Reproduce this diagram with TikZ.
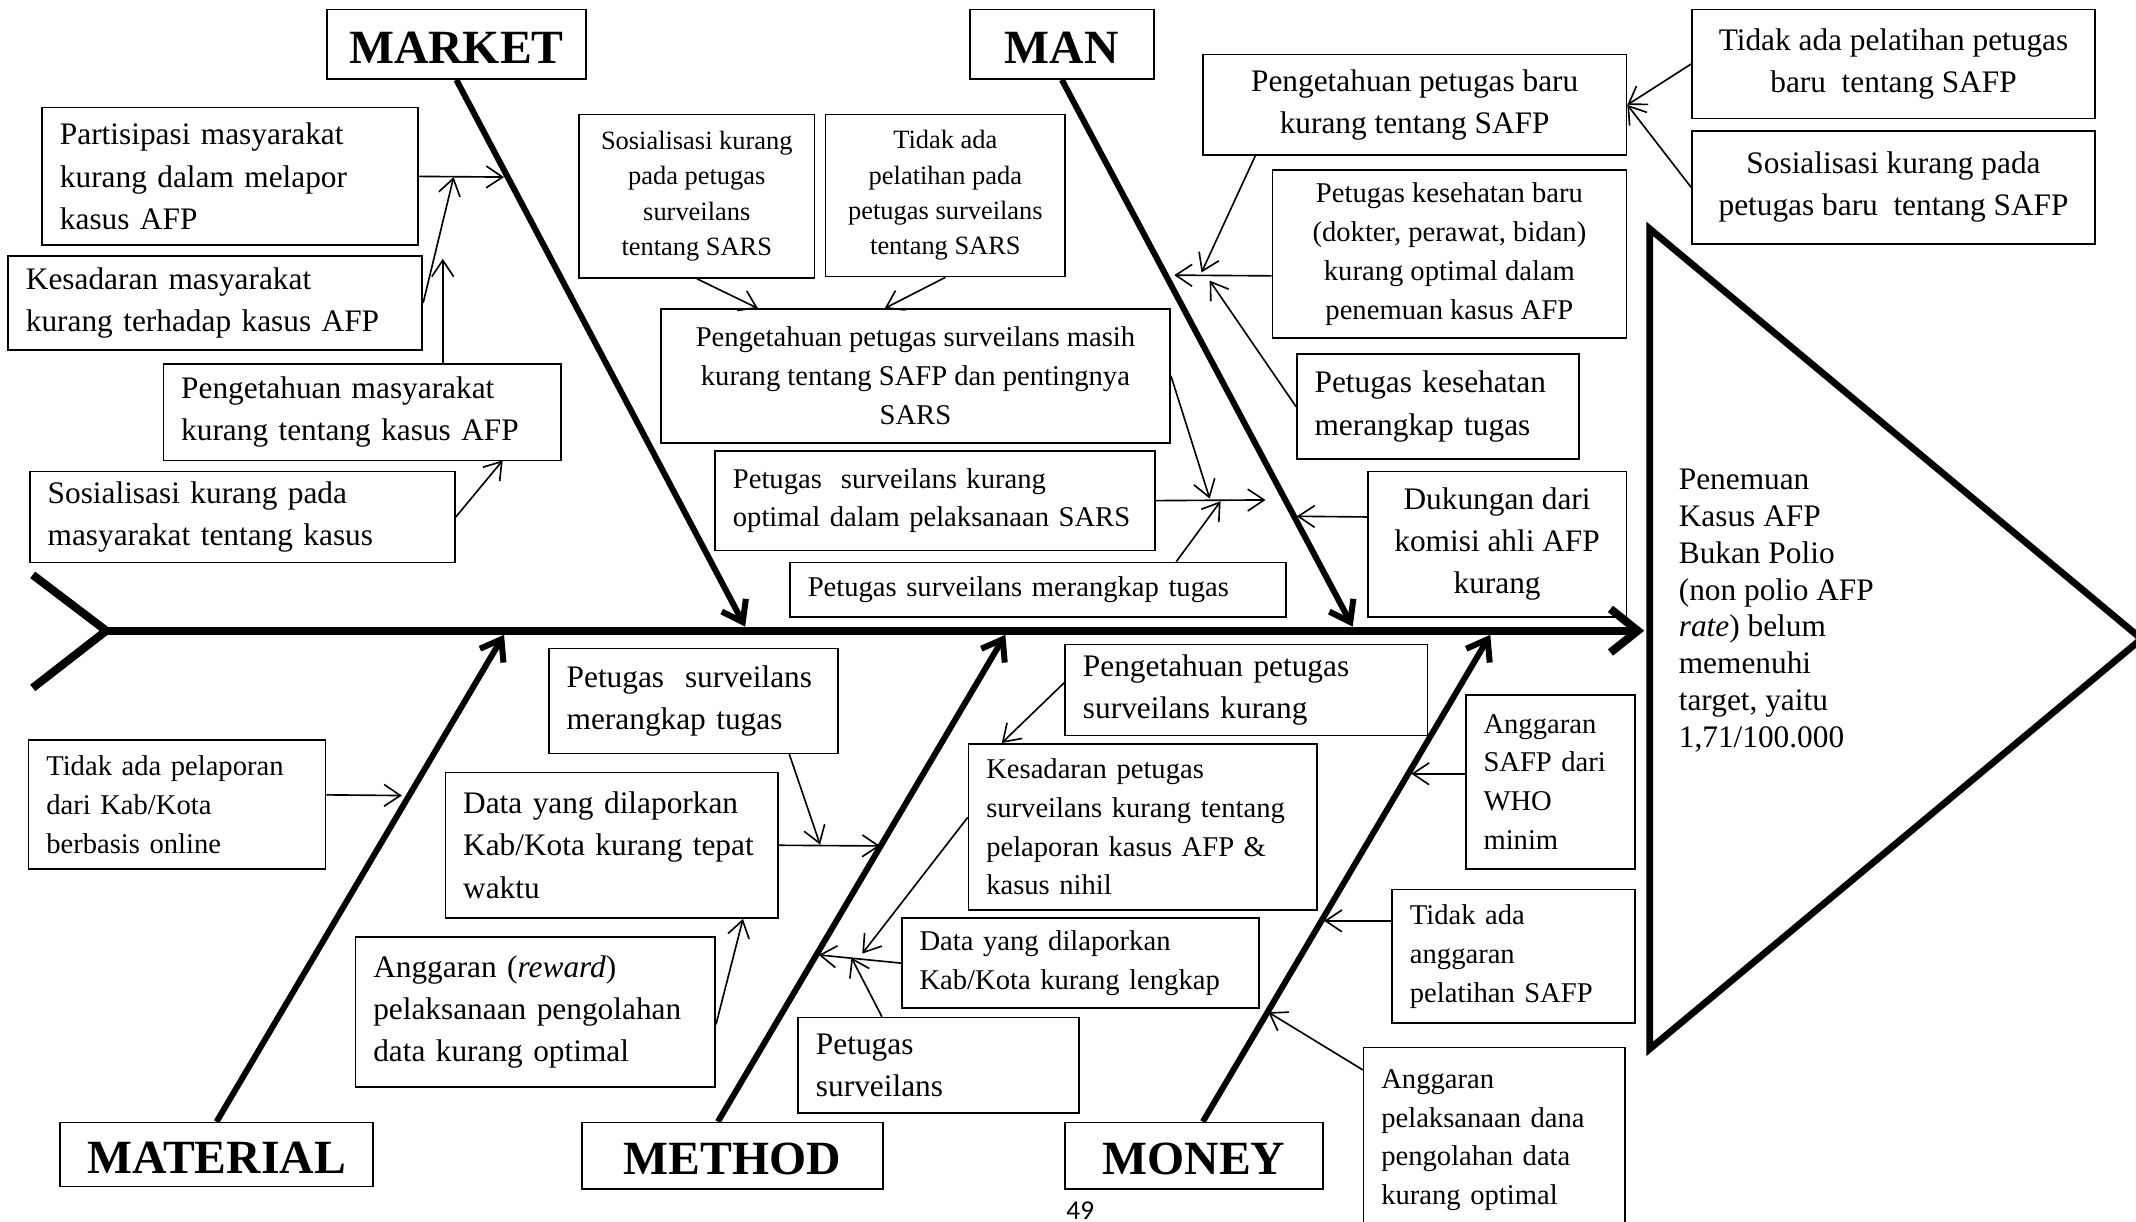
\documentclass[tikz,border=0pt]{standalone}
\usepackage{fontspec}
\setmainfont{Liberation Serif}
\newfontfamily\pgfont{Carlito}
\usetikzlibrary{arrows.meta}
\newcommand\fA{\fontsize{11.5pt}{15.5pt}\selectfont}
\newcommand\fB{\fontsize{10.5pt}{14.25pt}\selectfont}
\newcommand\fC{\fontsize{9.7pt}{13pt}\selectfont}
\newcommand\fE{\fontsize{11.5pt}{13.5pt}\selectfont}
\newcommand\fT{\fontsize{17.5pt}{20pt}\selectfont\bfseries}

\begin{document}
\begin{tikzpicture}[x=0.5pt, y=-0.5pt, >={Straight Barb[length=6pt,width=8pt]}]
  \tikzstyle{cause}=[draw, line width=0.6pt, inner xsep=6.5pt, inner ysep=1pt, align=left]
  \tikzstyle{mid}=[draw, line width=0.6pt, inner sep=1pt, align=center]
  \tikzstyle{cat}=[draw, line width=0.6pt, inner sep=0pt, text height=14pt, font=\fT]
  \tikzstyle{bone}=[line width=2.2pt, -{Straight Barb[length=7pt,width=10pt]}]
  \tikzstyle{link}=[line width=0.6pt, ->]

  \useasboundingbox (0,0) rectangle (1568,897);

  \node[cat, minimum width=95pt, minimum height=25.5pt] (mk) at (335,32.5) {MARKET};
  \node[cat, minimum width=67.5pt, minimum height=25.5pt] (man) at (779.5,32.5) {MAN};
  \node[cat, minimum width=115pt, minimum height=23.5pt] (mat) at (159,847.5) {MATERIAL};
  \node[cat, minimum width=110.5pt, minimum height=24.5pt] (met) at (537.5,848.5) {METHOD};
  \node[cat, minimum width=94.5pt, minimum height=24.5pt] (mon) at (876.5,848.5) {MONEY};

  \node[cause, text width=125pt, minimum height=50.5pt, font=\fA] (a) at (169,129.5) {Partisipasi masyarakat\\ kurang dalam melapor\\ kasus AFP};
  \node[cause, text width=139pt, minimum height=34.5pt, font=\fA] (b) at (158,222.5) {Kesadaran masyarakat\\ kurang terhadap kasus AFP};
  \node[cause, text width=133pt, minimum height=35.5pt, font=\fA] (c) at (266,302.5) {Pengetahuan masyarakat\\ kurang tentang kasus AFP};
  \node[cause, text width=143pt, minimum height=33.5pt, font=\fA] (d) at (178,379.5) {Sosialisasi kurang pada\\ masyarakat tentang kasus};

  \node[mid, minimum width=86.5pt, minimum height=60pt, font=\fC] (e) at (511.5,144) {Sosialisasi kurang\\ pada petugas\\ surveilans\\ tentang SARS};
  \node[mid, minimum width=88pt, minimum height=59.5pt, font=\fC] (f) at (694,143.5) {Tidak ada\\ pelatihan pada\\ petugas surveilans\\ tentang SARS};
  \node[mid, minimum width=187pt, minimum height=49pt, font=\fB] (g) at (672,276) {Pengetahuan petugas surveilans masih\\ kurang tentang SAFP dan pentingnya\\ SARS};
  \node[cause, text width=148.5pt, minimum height=36.5pt, font=\fB] (h) at (686.5,367.5) {Petugas~ surveilans kurang\\ optimal dalam pelaksanaan SARS};
  \node[cause, text width=169pt, minimum height=20pt, font=\fB] (i) at (762,433) {Petugas surveilans merangkap tugas};

  \node[mid, minimum width=155.5pt, minimum height=37pt, font=\fA] (j) at (1038.5,77) {Pengetahuan petugas baru\\ kurang tentang SAFP};
  \node[mid, minimum width=148pt, minimum height=40pt, font=\fA] (k) at (1390,47) {Tidak ada pelatihan petugas\\ baru~ tentang SAFP};
  \node[mid, minimum width=148pt, minimum height=41.5pt, font=\fA] (l) at (1390,137.5) {Sosialisasi kurang pada\\ petugas baru~ tentang SAFP};
  \node[mid, minimum width=130pt, minimum height=61.5pt, font=\fB] (m) at (1064,186.5) {Petugas kesehatan baru\\ (dokter, perawat, bidan)\\ kurang optimal dalam\\ penemuan kasus AFP};
  \node[cause, text width=90.5pt, minimum height=38.5pt, font=\fA] (n) at (1055.5,298.5) {Petugas kesehatan\\ merangkap tugas};
  \node[mid, minimum width=95pt, minimum height=53.5pt, font=\fA] (o) at (1099,399.5) {Dukungan dari\\ komisi ahli AFP\\ kurang};

  \node[cause, text width=96pt, minimum height=47.5pt, font=\fB] (p) at (130,590.5) {Tidak ada pelaporan\\ dari Kab/Kota\\ berbasis online};

  \node[cause, text width=93pt, minimum height=38.5pt, font=\fA] (q) at (509,514.5) {Petugas~ surveilans\\ merangkap tugas};
  \node[cause, text width=109pt, minimum height=53.5pt, font=\fA] (r) at (449,620.5) {Data yang dilaporkan\\ Kab/Kota kurang tepat\\ waktu};
  \node[cause, text width=119pt, minimum height=55pt, font=\fA] (s) at (393,743) {Anggaran (\textit{reward})\\ pelaksanaan pengolahan\\ data kurang optimal};
  \node[cause, text width=120pt, minimum height=33.5pt, font=\fA] (t) at (915,506.5) {Pengetahuan petugas\\ surveilans kurang};
  \node[cause, text width=115pt, minimum height=61pt, font=\fB] (u) at (839,607) {Kesadaran petugas\\ surveilans kurang tentang\\ pelaporan kasus AFP \&\\ kasus nihil};
  \node[cause, text width=118pt, minimum height=33pt, font=\fB] (v) at (793,707) {Data yang dilaporkan\\ Kab/Kota kurang lengkap};
  \node[cause, text width=90pt, minimum height=35pt, font=\fA] (w) at (689,782) {Petugas\\ surveilans};

  \node[cause, text width=49pt, minimum height=64pt, font=\fB] (x) at (1138,574) {Anggaran\\ SAFP dari\\ WHO\\ minim};
  \node[cause, text width=76pt, minimum height=49pt, font=\fB] (y) at (1111,702) {Tidak ada\\ anggaran\\ pelatihan SAFP};
  \node[cause, text width=83pt, minimum height=68pt, font=\fB] (z) at (1097,837) {Anggaran\\ pelaksanaan dana\\ pengolahan data\\ kurang optimal};

  \node[anchor=north west, align=left, inner sep=0pt, font=\fE] (eff) at (1232,344) {Penemuan\\ Kasus AFP\\ Bukan Polio\\ (non polio AFP\\ \textit{rate}) belum\\ memenuhi\\ target, yaitu\\ 1,71/100.000};
  \node[anchor=base, inner sep=0pt, font=\pgfont\fontsize{10pt}{12pt}\selectfont] (pg) at (793,895) {49};

  \draw[line width=2.5pt] (1211,168) -- (1211,770) -- (1572,469) -- cycle;
  \draw[line width=3pt] (24,422) -- (78,463) -- (24,505);
  \draw[line width=3pt, -{Straight Barb[length=10pt,width=16pt]}] (78,463) -- (1207,463);

  \coordinate (tmk) at (547,460);
  \coordinate (tman) at (993,460);
  \coordinate (tmat) at (370,466);
  \coordinate (tmet) at (738,466);
  \coordinate (tmon) at (1094,466);
  \draw[bone] (mk.south) -- (tmk);
  \draw[bone] (man.south) -- (tman);
  \draw[bone] (mat.north) -- (tmat);
  \draw[bone] ([xshift=-5.25pt]met.north) -- (tmet);
  \draw[bone] ([xshift=3.25pt]mon.north) -- (tmon);

  \coordinate (ca) at (370,130);
  \coordinate (cb) at (333,130);
  \coordinate (cc) at (325,190);
  \coordinate (cd) at (369,338);
  \coordinate (ch) at (929,367);
  \coordinate (cg) at (888,366);
  \coordinate (ci) at (896,368);
  \coordinate (cj) at (882,200);
  \coordinate (cm) at (862,202);
  \coordinate (cn) at (888,206);
  \coordinate (co) at (952,379);
  \coordinate (cp) at (295,584);
  \coordinate (cq) at (602,620);
  \coordinate (cr) at (646,621);
  \coordinate (cu) at (633,700);
  \coordinate (cv) at (601,701);
  \coordinate (cw) at (625,703);
  \coordinate (cx) at (1036,568);
  \coordinate (cy) at (972,676);
  \coordinate (cz) at (931,743);

  \draw[link] (a.east) -- (ca);
  \draw[link] (b.east) -- (cb);
  \draw[link] (c.north -| cc) -- (cc);
  \draw[link] (d.east) -- (cd);
  \draw[link] (e.south) -- ([xshift=36pt]g.north west);
  \draw[link] (f.south) -- ([xshift=82.5pt]g.north west);
  \draw[link] (h.east) -- (ch);
  \draw[link] (g.east) -- (cg);
  \draw[link] ([xshift=142pt]i.north west) -- (ci);
  \draw[link] (k.west) -- (j.east);
  \draw[link] (l.west) -- (j.east);
  \draw[link] ([xshift=19.5pt]j.south west) -- (cj);
  \draw[link] ([yshift=-8pt]m.west) -- (cm);
  \draw[link] (n.west) -- (cn);
  \draw[link] ([yshift=10pt]o.west) -- (co);
  \draw[link] ([yshift=3.5pt]p.east) -- (cp);
  \draw[link] ([xshift=88.5pt]q.south west) -- (cq);
  \draw[link] (r.east) -- (cr);
  \draw[link] ([yshift=-4.5pt]s.east) -- ([xshift=109.5pt]r.south west);
  \draw[link] ([yshift=2.75pt]t.west) -- ([xshift=12.5pt]u.north west);
  \draw[link] ([yshift=3.5pt]u.west) -- (cu);
  \draw[link] (v.west) -- (cv);
  \draw[link] ([xshift=31pt]w.north west) -- (cw);
  \draw[link] ([yshift=3pt]x.west) -- (cx);
  \draw[link] ([yshift=13pt]y.west) -- (cy);
  \draw[link] ([yshift=-8.5pt]z.north west) -- (cz);
\end{tikzpicture}
\end{document}
